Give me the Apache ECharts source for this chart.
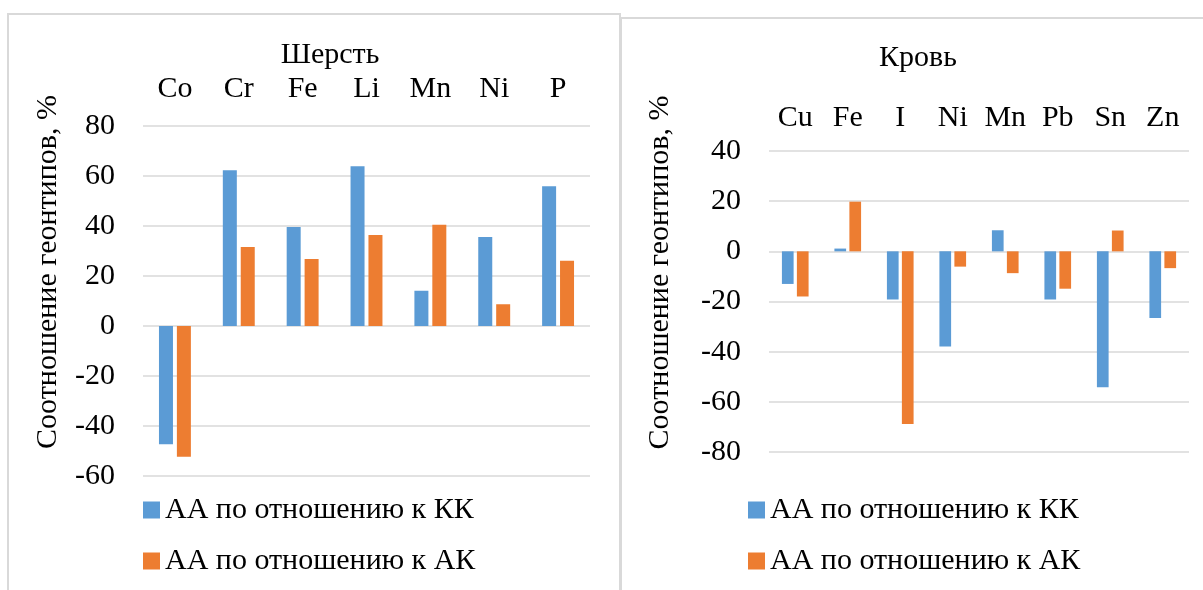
<!DOCTYPE html>
<html>
<head>
<meta charset="utf-8">
<script src="https://cdn.jsdelivr.net/npm/echarts@6/dist/echarts.min.js"></script>
<style>
html,body{margin:0;padding:0;background:#fff;}
#chart{width:1203px;height:590px;}
</style>
</head>
<body>
<div id="chart"></div>
<script>
const leftTitle = 'Шерсть';
const rightTitle = 'Кровь';
const yName = 'Соотношение геонтипов, %';
const seriesNames = ['АА по отношению к КК', 'АА по отношению к АК'];

const leftCategories = ['Co', 'Cr', 'Fe', 'Li', 'Mn', 'Ni', 'P'];
const leftKK = [-47.3, 62.3, 39.6, 63.9, 14.1, 35.6, 55.9];
const leftAK = [-52.3, 31.6, 26.8, 36.4, 40.5, 8.7, 26.1];

const rightCategories = ['Cu', 'Fe', 'I', 'Ni', 'Mn', 'Pb', 'Sn', 'Zn'];
const rightKK = [-13.0, 1.1, -19.2, -37.9, 8.4, -19.2, -54.2, -26.6];
const rightAK = [-18.0, 19.8, -68.8, -6.1, -8.7, -14.9, 8.3, -6.7];

const leftTicks = [-60, 80, 20];   // min, max, interval
const rightTicks = [-80, 40, 20];

const FONT = '"Liberation Serif", "Times New Roman", serif';
const FS = 30;
const BLUE = '#5B9BD5';
const ORANGE = '#ED7D31';
const GRID = '#d9d9d9';
const TXT = '#000';

const chart = echarts.init(document.getElementById('chart'), null, {renderer: 'canvas'});

function xAxisCfg(idx, cats, margin) {
  return {
    type: 'category', gridIndex: idx, data: cats, position: 'top',
    axisLine: {show: false}, axisTick: {show: false}, splitLine: {show: false},
    axisLabel: {color: TXT, fontFamily: FONT, fontSize: FS, margin: margin,
                interval: 0, hideOverlap: false}
  };
}
function yAxisCfg(idx, t, nameGap) {
  return {
    type: 'value', gridIndex: idx, min: t[0], max: t[1], interval: t[2],
    name: yName, nameLocation: 'middle', nameRotate: 90, nameGap: nameGap,
    nameTextStyle: {color: TXT, fontFamily: FONT, fontSize: FS, padding: [0, 0, 0, 58]},
    axisLine: {show: false}, axisTick: {show: false},
    splitLine: {show: true, lineStyle: {color: GRID, width: 1.5}},
    axisLabel: {color: TXT, fontFamily: FONT, fontSize: FS, margin: 28}
  };
}
function barSeries(name, data, idx, color, width) {
  return {
    type: 'bar', name: name, data: data, xAxisIndex: idx, yAxisIndex: idx,
    barWidth: width, barGap: '28%',
    itemStyle: {color: color}
  };
}

const option = {
  animation: false,
  backgroundColor: '#fff',
  title: [
    {text: leftTitle, left: 325, top: 35, textAlign: 'center',
     textStyle: {color: TXT, fontFamily: FONT, fontSize: FS, fontWeight: 'normal'}},
    {text: rightTitle, left: 913, top: 38, textAlign: 'center',
     textStyle: {color: TXT, fontFamily: FONT, fontSize: FS, fontWeight: 'normal'}}
  ],
  legend: [
    {orient: 'vertical', left: 143, top: 495, padding: 0, itemWidth: 17, itemHeight: 17, itemGap: 21,
     icon: 'rect', data: seriesNames,
     textStyle: {color: TXT, fontFamily: FONT, fontSize: FS, lineHeight: 30}},
    {orient: 'vertical', left: 748, top: 495, padding: 0, itemWidth: 17, itemHeight: 17, itemGap: 21,
     icon: 'rect', data: seriesNames,
     textStyle: {color: TXT, fontFamily: FONT, fontSize: FS, lineHeight: 30}}
  ],
  grid: [
    {left: 143, top: 126, width: 447, height: 350},
    {left: 769, top: 151, width: 420, height: 301}
  ],
  xAxis: [xAxisCfg(0, leftCategories, 22), xAxisCfg(1, rightCategories, 18)],
  yAxis: [yAxisCfg(0, leftTicks, 80), yAxisCfg(1, rightTicks, 94)],
  series: [
    barSeries(seriesNames[0], leftKK, 0, BLUE, 14),
    barSeries(seriesNames[1], leftAK, 0, ORANGE, 14),
    barSeries(seriesNames[0], rightKK, 1, BLUE, 11.7),
    barSeries(seriesNames[1], rightAK, 1, ORANGE, 11.7)
  ],
  graphic: [
    {type: 'rect', silent: true, z: -1, shape: {x: 8, y: 14, width: 612, height: 620},
     style: {fill: 'none', stroke: GRID, lineWidth: 2}},
    {type: 'rect', silent: true, z: -1, shape: {x: 621, y: 18, width: 620, height: 620},
     style: {fill: 'none', stroke: GRID, lineWidth: 2}}
  ]
};
chart.setOption(option);
</script>
</body>
</html>
